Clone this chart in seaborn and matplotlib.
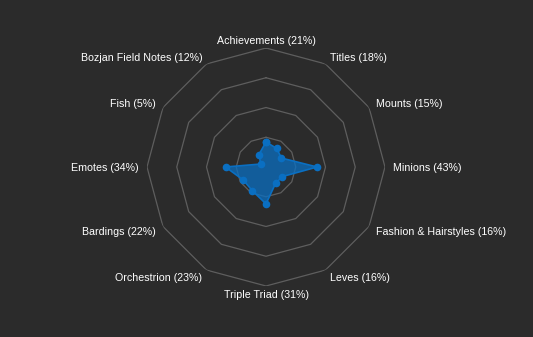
import numpy as np
import pandas as pd
import matplotlib
matplotlib.use("Agg")
import matplotlib.pyplot as plt
import seaborn as sns

categories = ["Achievements", "Titles", "Mounts", "Minions", "Fashion & Hairstyles",
              "Leves", "Triple Triad", "Orchestrion", "Bardings", "Emotes", "Fish",
              "Bozjan Field Notes"]
values = [21, 18, 15, 43, 16, 16, 31, 23, 22, 34, 5, 12]
ring_levels = [25, 50, 75, 100]

BG = "#2b2b2b"
GRID = "#5e5e5e"
BLUE = "#0a6fc2"

sns.set_theme(style="dark")
plt.rcParams["font.family"] = ["Liberation Sans", "DejaVu Sans"]

n = len(categories)
angles = np.linspace(0, 2 * np.pi, n, endpoint=False)
df = pd.DataFrame({"theta": np.append(angles, 2 * np.pi),
                   "r": values + values[:1]})

fig = plt.figure(figsize=(5.33, 3.37), dpi=100, facecolor=BG)
ax = fig.add_axes([147 / 533, 51 / 337, 238 / 533, 238 / 337], projection="polar")
ax.set_facecolor(BG)
ax.set_theta_zero_location("N")
ax.set_theta_direction(-1)
ax.set_ylim(0, 100)
ax.grid(False)
ax.spines["polar"].set_visible(False)
ax.set_xticks([])
ax.set_yticks([])
ax.patch.set_alpha(0)

ring_theta = np.append(angles, 2 * np.pi)
for lvl in ring_levels:
    ax.plot(ring_theta, [lvl] * len(ring_theta), color=GRID, lw=0.9, zorder=1)

ax.fill(df["theta"], df["r"], color=BLUE, alpha=0.75, lw=0, zorder=2)
sns.lineplot(data=df, x="theta", y="r", ax=ax, color=BLUE, lw=1.2, sort=False,
             marker="o", markersize=5.5, markeredgewidth=0, zorder=3)
ax.set_xlabel("")
ax.set_ylabel("")

for ang, cat, v in zip(angles, categories, values):
    s = np.sin(ang)
    if abs(s) < 1e-6:
        ha = "center"
    elif s > 0:
        ha = "left"
    else:
        ha = "right"
    ax.text(ang, 107, f"{cat} ({v}%)", ha=ha, va="center_baseline", color="white",
            fontsize=7.7, clip_on=False)

fig.savefig("out.png", dpi=100, facecolor=BG)
